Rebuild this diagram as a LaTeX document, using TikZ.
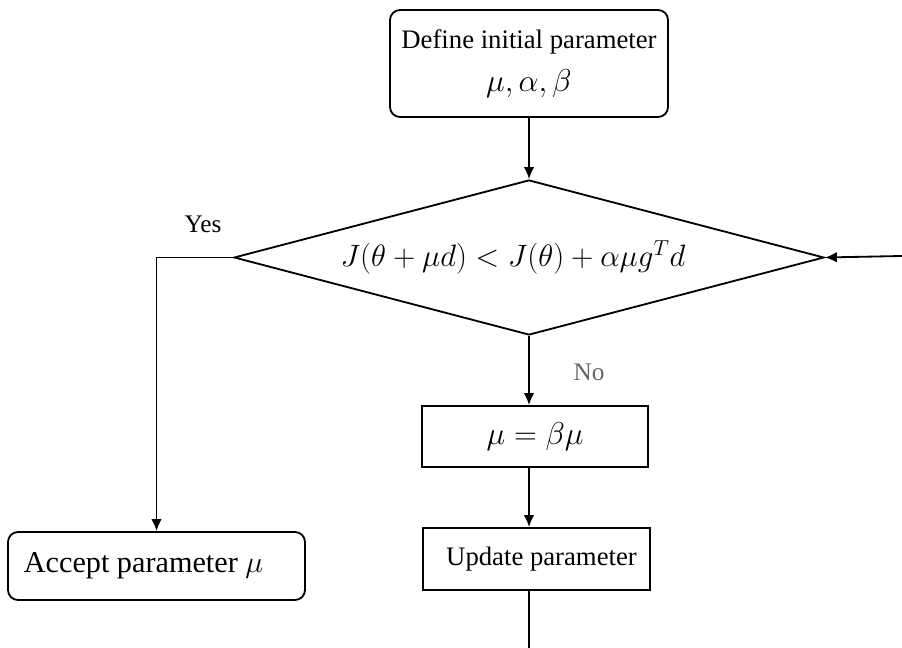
\RequirePackage{fix-cm}
\documentclass[tikz,border=0pt]{standalone}
\usepackage{fontspec}
\setmainfont{Liberation Serif}
\usepackage{amsmath}
\usetikzlibrary{arrows,arrows.meta,shapes.geometric}
\tikzstyle{chart}=[line width=1.3pt, >={Latex[length=8.5pt,width=7.5pt]}]
\tikzstyle{roundbox}=[draw, rounded corners=.25cm, inner sep=0pt, align=center, font=\fontsize{19}{23}\selectfont]
\tikzstyle{plainbox}=[draw, inner sep=0pt, font=\fontsize{19}{23}\selectfont]
\tikzstyle{decision}=[draw, diamond, aspect=3.8, inner sep=0pt, font=\fontsize{22}{27}\selectfont]
\tikzstyle{branch}=[font=\fontsize{18}{22}\selectfont]
\newcommand{\bigmath}[1]{{\fontsize{22.5}{27}\selectfont$#1$}}

\begin{document}
\begin{tikzpicture}[chart]
	\useasboundingbox (0,0) rectangle (22.55,16.2);
	\node[roundbox, minimum width=6.95cm, minimum height=2.675cm] (init) at (13.225,14.6125) {Define initial parameter\\[8pt] \bigmath{\mu,\alpha,\beta}};
	\node[decision, minimum width=14.75cm, minimum height=3.875cm] (test) at (13.225,9.7625) {$J(\theta+\mu d)<J(\theta)+\alpha\mu g^Td$\kern.8cm};
	\node[roundbox, minimum width=7.425cm, minimum height=1.7cm, font=\fontsize{21.5}{25}\selectfont] (accept) at (3.9125,2.05) {Accept parameter $\mu$\hspace{.65cm}};
	\node[plainbox, minimum width=5.65cm, minimum height=1.525cm] (shrink) at (13.375,5.2875) {\bigmath{\mu=\beta\mu}};
	\node[plainbox, minimum width=5.675cm, minimum height=1.55cm] (update) at (13.4125,2.225) {\hspace{.25cm}Update parameter};
	\node[branch] (yes) at (5.075,10.6) {Yes};
	\node[branch, text=black!60] (no) at (14.725,6.9) {No};
	\coordinate (down) at (13.225,0);
	\coordinate (back) at (22.55,9.8);
	% flow
	\draw[->] (init.south) -- (test.north);
	\draw[->] (test.west) -| (accept.north);
	\draw[->] (test.south) -- (test.south |- shrink.north);
	\draw[->] (test.south |- shrink.south) -- (test.south |- update.north);
	\draw (test.south |- update.south) -- (down);
	\draw[->] (back) -- (test.east);
\end{tikzpicture}
\end{document}
